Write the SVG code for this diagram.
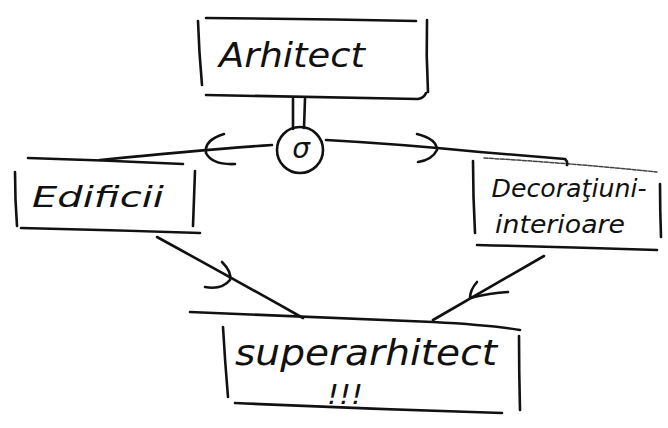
<svg xmlns="http://www.w3.org/2000/svg" width="668" height="428" viewBox="0 0 668 428">
  <style>
    .ink { fill: none; stroke: #111; stroke-width: 2.6; stroke-linecap: round; stroke-linejoin: round; }
    .faint { fill: none; stroke: #444; stroke-width: 1.5; stroke-linecap: round; stroke-dasharray: 4 1.5; }
    .hand { font-family: "DejaVu Sans", "Liberation Sans", sans-serif; font-style: italic; fill: #111; }
  </style>
  <rect width="668" height="428" fill="#ffffff"/>

  <g id="arhitect">
    <path class="ink" d="M206 18 Q310 19 416 21"/>
    <path class="ink" d="M198 21 Q199 52 202 85"/>
    <path class="ink" d="M427 20 Q426 56 428 92"/>
    <path class="ink" d="M206 95 Q320 97 418 99 Q424 98 426 93"/>
    <text class="hand" x="292" y="67" font-size="34" text-anchor="middle" textLength="146" lengthAdjust="spacingAndGlyphs">Arhitect</text>
  </g>

  <g id="edificii">
    <path class="ink" d="M28 158 Q100 160 183 164"/>
    <path class="ink" d="M15 172 Q15 200 17 226"/>
    <path class="ink" d="M195 171 Q194 200 193 226"/>
    <path class="ink" d="M21 228 Q110 230 200 233"/>
    <text class="hand" x="98" y="207" font-size="29" text-anchor="middle" textLength="132" lengthAdjust="spacingAndGlyphs">Edificii</text>
  </g>

  <g id="decoratiuni">
    <path class="faint" d="M484 158 Q570 163 657 172"/>
    <path class="ink" d="M473 161 Q473 196 475 233"/>
    <path class="ink" d="M660 184 Q660 210 661 237"/>
    <path class="ink" d="M477 245 Q567 247 657 250"/>
    <text class="hand" x="569" y="197" font-size="24" text-anchor="middle" textLength="155" lengthAdjust="spacingAndGlyphs">Decoraţiuni-</text>
    <text class="hand" x="560" y="233" font-size="24" text-anchor="middle" textLength="130" lengthAdjust="spacingAndGlyphs">interioare</text>
  </g>

  <g id="superarhitect">
    <path class="ink" d="M190 312 Q300 317 433 322 Q490 325 520 330"/>
    <path class="ink" d="M223 327 Q225 362 228 397"/>
    <path class="ink" d="M519 336 Q519 372 520 410"/>
    <path class="ink" d="M235 403 Q370 409 502 413"/>
    <text class="hand" x="366" y="365" font-size="36" text-anchor="middle" textLength="262" lengthAdjust="spacingAndGlyphs">superarhitect</text>
    <text class="hand" x="345" y="404" font-size="26" text-anchor="middle" textLength="36" lengthAdjust="spacingAndGlyphs">!!!</text>
  </g>

  <g id="connectors">
    <path class="ink" d="M293 99 L293 129"/>
    <path class="ink" d="M305 99 L304 128"/>
    <circle class="ink" cx="300" cy="150" r="23"/>
    <text class="hand" x="301" y="158" font-size="28" text-anchor="middle">σ</text>
    <path class="ink" d="M272 145 Q200 150 100 160"/>
    <path class="ink" d="M224 134 Q204 140 206 153 Q212 165 235 164"/>
    <path class="ink" d="M326 140 Q400 144 480 152 Q540 157 565 159 Q568 162 567 165"/>
    <path class="ink" d="M417 134 Q437 139 437 150 Q432 160 418 162"/>
    <path class="ink" d="M157 237 Q230 277 303 318"/>
    <path class="ink" d="M222 262 Q232 272 230 280 Q222 290 205 287"/>
    <path class="ink" d="M544 256 Q490 287 433 320"/>
    <path class="ink" d="M477 282 Q470 290 470 298 Q490 293 508 292"/>
  </g>
</svg>
